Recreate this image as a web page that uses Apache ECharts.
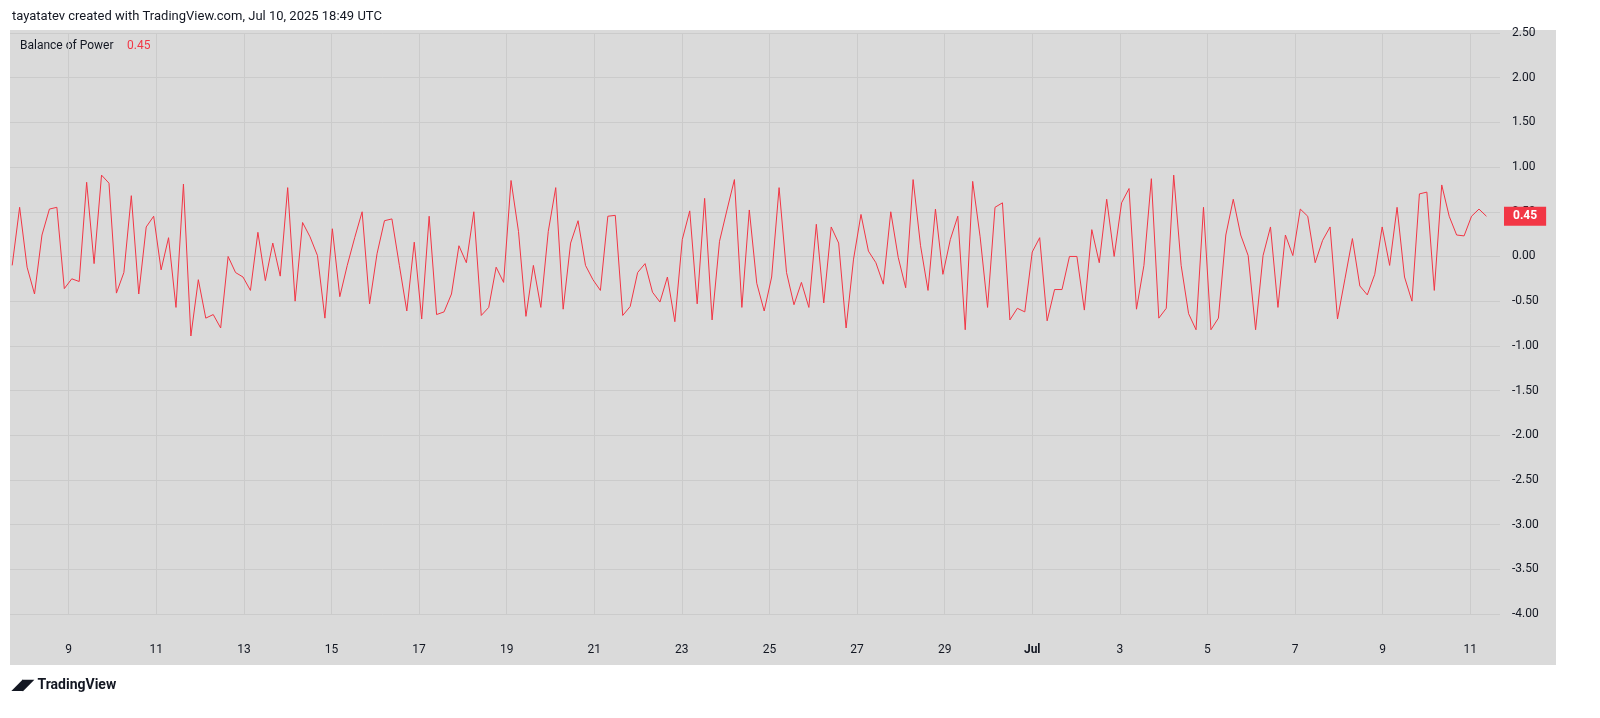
<!DOCTYPE html>
<html>
<head>
<meta charset="utf-8">
<script src="https://cdn.jsdelivr.net/npm/echarts@6/dist/echarts.min.js"></script>
<style>
  html, body { margin: 0; padding: 0; background: #fff; }
  #chart { width: 1600px; height: 718px; }
</style>
</head>
<body>
<div id="chart"></div>
<script>
'use strict';
// Balance of Power readings
const bopValues = [
  -0.10, 0.55, -0.12, -0.42, 0.24, 0.53, 0.55, -0.36, -0.25, -0.28, 0.83, -0.08, 0.91, 0.82, -0.41, -0.18, 0.68,
  -0.42, 0.33, 0.45, -0.15, 0.21, -0.57, 0.81, -0.89, -0.26, -0.69, -0.65, -0.80, 0.00, -0.18, -0.23, -0.38, 0.27,
  -0.27, 0.15, -0.22, 0.77, -0.50, 0.38, 0.22, 0.01, -0.69, 0.31, -0.45, -0.10, 0.21, 0.50, -0.53, 0.03, 0.40,
  0.42, -0.10, -0.61, 0.16, -0.70, 0.45, -0.65, -0.62, -0.42, 0.12, -0.07, 0.50, -0.66, -0.57, -0.12,
  -0.29, 0.85, 0.28, -0.67, -0.10, -0.57, 0.28, 0.77, -0.59, 0.15, 0.40, -0.10, -0.26, -0.38, 0.45, 0.46,
  -0.66, -0.56, -0.18, -0.08, -0.40, -0.51, -0.23, -0.73, 0.19, 0.51, -0.53, 0.65, -0.71, 0.17, 0.52, 0.86, -0.57,
  0.52, -0.30, -0.61, -0.23, 0.77, -0.18, -0.54, -0.29, -0.57, 0.36, -0.52, 0.33, 0.15, -0.80, -0.03, 0.47,
  0.06, -0.07, -0.31, 0.50, -0.01, -0.35, 0.86, 0.12, -0.38, 0.53, -0.20, 0.19, 0.45, -0.82, 0.84, 0.22,
  -0.57, 0.55, 0.60, -0.71, -0.58, -0.62, 0.05, 0.21, -0.72, -0.37, -0.37, 0.00, 0.00, -0.60, 0.30, -0.07,
  0.64, 0.00, 0.60, 0.76, -0.59, -0.10, 0.87, -0.69, -0.58, 0.91, -0.10, -0.64, -0.82, 0.55, -0.82, -0.69,
  0.24, 0.64, 0.24, 0.01, -0.82, 0.01, 0.33, -0.57, 0.24, 0.01, 0.53, 0.45, -0.07, 0.18, 0.33, -0.70, -0.25,
  0.20, -0.33, -0.43, -0.20, 0.33, -0.10, 0.55, -0.23, -0.50, 0.70, 0.72, -0.38, 0.80, 0.45, 0.24, 0.23,
  0.45, 0.53, 0.45
];
// time axis in days counted from May 31 (Jun 9 = 9, Jul 1 = 31)
const startDay = 7.71;
const stepDay = 0.170;
const dayTicks = [9, 11, 13, 15, 17, 19, 21, 23, 25, 27, 29, 31, 33, 35, 37, 39, 41];
const lastValue = 0.45;

const red = '#f23645';
const seriesData = bopValues.map((v, i) => [startDay + i * stepDay, v]);

const dayLabel = (d) => {
  if (d === 31) return '{b|Jul}';
  return String(d > 30 ? d - 30 : d);
};

const myChart = echarts.init(document.getElementById('chart'));
myChart.setOption({
  backgroundColor: '#ffffff',
  animation: false,
  textStyle: { fontFamily: 'Roboto, "Noto Sans", sans-serif' },
  graphic: [
    { type: 'rect', z: -10, shape: { x: 10, y: 30, width: 1546, height: 635 }, style: { fill: '#dadada' } },
    { type: 'text', left: 12, top: 10, style: { text: 'tayatatev created with TradingView.com, Jul 10, 2025 18:49 UTC', fontSize: 13, fill: '#131722', fontFamily: 'Roboto' } },
    { type: 'text', left: 20, top: 40, style: { text: 'Balance of Power', fontSize: 12, fill: '#131722', fontFamily: 'Roboto' } },
    { type: 'text', left: 127, top: 40, style: { text: '0.45', fontSize: 12, fill: red, fontFamily: 'Roboto' } },
    { type: 'text', left: 12, top: 678, style: { text: '◢◤ TradingView', fontSize: 14, fontWeight: 'bold', fill: '#131722', fontFamily: 'Roboto' } }
  ],
  grid: { left: 10, right: 100, top: 33, bottom: 104 },
  xAxis: {
    type: 'value',
    min: 7.66,
    max: 41.68,
    axisLine: { show: false },
    axisTick: { show: false, customValues: dayTicks },
    axisLabel: {
      customValues: dayTicks,
      margin: 30,
      color: '#131722',
      fontSize: 12,
      formatter: (v) => dayLabel(Math.round(v)),
      rich: { b: { fontWeight: 'bold', fontSize: 12, color: '#131722' } }
    },
    splitLine: { show: true, lineStyle: { color: '#cbcbcb', width: 1 } }
  },
  yAxis: [{
    type: 'value',
    position: 'right',
    min: -4,
    max: 2.5,
    interval: 0.5,
    axisLine: { show: false },
    axisTick: { show: false },
    axisLabel: { color: '#131722', fontSize: 12, margin: 12, formatter: (v) => v.toFixed(2) },
    splitLine: { lineStyle: { color: '#cbcbcb', width: 1 } }
  }, {
    // last value marker on the price scale
    type: 'value',
    position: 'right',
    min: -4,
    max: 2.5,
    axisLine: { show: false },
    axisTick: { show: false },
    splitLine: { show: false },
    axisLabel: {
      customValues: [lastValue],
      margin: 4,
      color: '#fff',
      fontWeight: 'bold',
      fontSize: 12,
      backgroundColor: red,
      padding: [4, 9, 3, 9],
      formatter: (v) => v.toFixed(2)
    }
  }],
  series: [{
    name: 'Balance of Power',
    type: 'line',
    yAxisIndex: 0,
    data: seriesData,
    showSymbol: false,
    lineStyle: { color: red, width: 1 }
  }]
});
</script>
</body>
</html>
